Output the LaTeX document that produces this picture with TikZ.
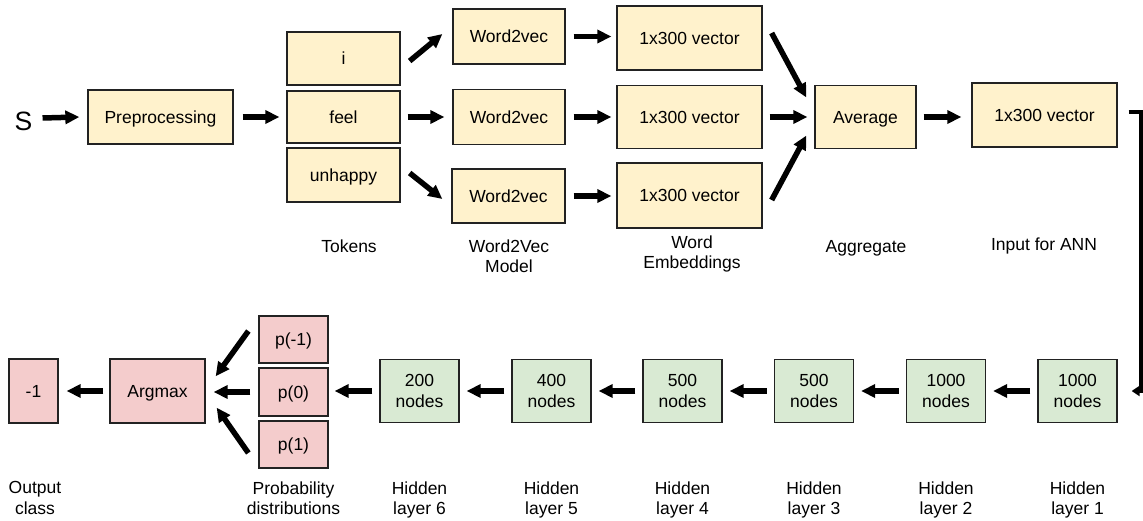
\documentclass[tikz,border=0pt]{standalone}
\usepackage{fontspec}
\setmainfont{Liberation Sans}
\usetikzlibrary{arrows.meta,calc}
\definecolor{boxyellow}{HTML}{FFF2CC}
\definecolor{boxpink}{HTML}{F4CCCC}
\definecolor{boxgreen}{HTML}{D9EAD3}
\definecolor{boxline}{HTML}{222222}
\begin{document}
\begin{tikzpicture}[x=1pt,y=-1pt,
  font=\fontsize{17.5}{20.5}\selectfont,
  box/.style={draw=boxline,line width=1.3pt,inner sep=0pt,align=center,text depth=0pt},
  ybox/.style={box,fill=boxyellow},
  pbox/.style={box,fill=boxpink},
  gbox/.style={box,fill=boxgreen,minimum width=79pt,minimum height=63pt},
  lbl/.style={align=center,inner sep=0pt},
  arr/.style={line width=5.5pt,-{Triangle[length=14pt,width=13pt]}},
  bendarr/.style={line width=4pt,line join=miter,-{Triangle[length=8pt,width=10pt]}}]
\useasboundingbox (0,0) rectangle (1143,521);
% ---- top row ----
\node[inner sep=0pt,font=\fontsize{26.5}{30}\selectfont] (s) at (23.5,121) {S};
\node[ybox,minimum width=145pt,minimum height=54pt] (pre) at (160.5,117) {Preprocessing};
\node[ybox,minimum width=113pt,minimum height=53pt] (ti) at (343.5,58.5) {i};
\node[ybox,minimum width=113pt,minimum height=52pt] (tfeel) at (343.5,117) {feel};
\node[ybox,minimum width=113pt,minimum height=54pt] (tun) at (343.5,175) {unhappy};
\node[ybox,minimum width=112pt,minimum height=55pt] (wa) at (509,36.5) {Word2vec};
\node[ybox,minimum width=112pt,minimum height=55pt] (wb) at (509,117) {Word2vec};
\node[ybox,minimum width=113pt,minimum height=54pt] (wc) at (508.5,196) {Word2vec};
\node[ybox,minimum width=145pt,minimum height=64pt] (va) at (689.5,38) {1x300 vector};
\node[ybox,minimum width=145pt,minimum height=63pt] (vb) at (689.5,117) {1x300 vector};
\node[ybox,minimum width=145pt,minimum height=65pt] (vc) at (689.5,195.5) {1x300 vector};
\node[ybox,minimum width=101pt,minimum height=63pt] (avg) at (865.5,117) {Average};
\node[ybox,minimum width=145pt,minimum height=64pt] (inp) at (1044.5,115) {1x300 vector};
% top labels
\node[lbl] (ltok) at (349,246) {Tokens};
\node[lbl] (lw2v) at (509,256) {Word2Vec\\Model};
\node[lbl] (lemb) at (692,254) {Word\\Embeddings};
\node[lbl] (lagg) at (866,248) {Aggregate};
\node[lbl] (linp) at (1044,246) {Input for ANN};
% ---- bottom row ----
\node[pbox,minimum width=49pt,minimum height=64pt] (out) at (33.5,391) {-1};
\node[pbox,minimum width=95pt,minimum height=64pt] (argm) at (157.5,391) {Argmax};
\node[pbox,minimum width=69pt,minimum height=47pt] (pm) at (293.5,339.5) {p(-1)};
\node[pbox,minimum width=69pt,minimum height=48pt] (pz) at (293.5,392) {p(0)};
\node[pbox,minimum width=69pt,minimum height=47pt] (pp) at (293.5,444.5) {p(1)};
\node[gbox] (h6) at (419.5,391) {200\\nodes};
\node[gbox] (h5) at (551.5,391) {400\\nodes};
\node[gbox] (h4) at (682.5,391) {500\\nodes};
\node[gbox] (h3) at (814,391) {500\\nodes};
\node[gbox] (h2) at (946,391) {1000\\nodes};
\node[gbox] (h1) at (1077.5,391) {1000\\nodes};
% bottom labels
\node[lbl] (lout) at (35,498) {Output\\class};
\node[lbl] (lprob) at (293.5,498) {Probability\\distributions};
\node[lbl] (l6) at (419.5,500) {Hidden\\layer 6};
\node[lbl] (l5) at (551.5,500) {Hidden\\layer 5};
\node[lbl] (l4) at (682.5,500) {Hidden\\layer 4};
\node[lbl] (l3) at (814,500) {Hidden\\layer 3};
\node[lbl] (l2) at (946,500) {Hidden\\layer 2};
\node[lbl] (l1) at (1077.5,500) {Hidden\\layer 1};
% ---- top arrows ----
\draw[arr] ($(s.east)+(10,-3)$) -- ($(pre.west)+(-8,0)$);
\draw[arr] ($(pre.east)+(9,0)$) -- ($(tfeel.west)+(-7,0)$);
\draw[arr] ($(ti.east)+(9,2.5)$) -- ($(wa.west)+(-10,-2.5)$);
\draw[arr] ($(tfeel.east)+(7,0)$) -- ($(wb.west)+(-8,0)$);
\draw[arr] ($(tun.east)+(9,-2)$) -- ($(wc.west)+(-9,3)$);
\draw[arr] ($(wa.east)+(8,0)$) -- ($(va.west |- wa.east)+(-5,0)$);
\draw[arr] ($(wb.east)+(8,0)$) -- ($(vb.west)+(-5,0)$);
\draw[arr] ($(wc.east)+(8,0)$) -- ($(vc.west |- wc.east)+(-5,0)$);
\draw[arr] ($(va.east)+(9,-5)$) -- ($(avg.west)+(-8,-19.5)$);
\draw[arr] ($(vb.east)+(7,0)$) -- ($(avg.west)+(-7,0)$);
\draw[arr] ($(vc.east)+(9,4.5)$) -- ($(avg.west)+(-8,18.5)$);
\draw[arr] ($(avg.east)+(7,0)$) -- ($(inp.west |- avg.east)+(-10,0)$);
\coordinate (bendtop) at ($(inp.east)+(23.5,-2.5)$);
\draw[bendarr] ($(inp.east)+(11,-2.5)$) -- (bendtop) -- (bendtop |- h1.east) -- ($(h1.east)+(14,0)$);
% ---- bottom arrows ----
\draw[arr] ($(h1.west)+(-7,0)$) -- ($(h2.east)+(7,0)$);
\draw[arr] ($(h2.west)+(-7,0)$) -- ($(h3.east)+(7,0)$);
\draw[arr] ($(h3.west)+(-7,0)$) -- ($(h4.east)+(7,0)$);
\draw[arr] ($(h4.west)+(-7,0)$) -- ($(h5.east)+(7,0)$);
\draw[arr] ($(h5.west)+(-7,0)$) -- ($(h6.east)+(7,0)$);
\draw[arr] ($(h6.west)+(-7,0)$) -- ($(pz.east |- h6.west)+(6,0)$);
\draw[arr] ($(pz.west)+(-8,0)$) -- ($(argm.east |- pz.west)+(8,0)$);
\draw[arr] ($(pm.west)+(-10,-8.5)$) -- ($(argm.north east)+(10,18)$);
\draw[arr] ($(pp.west)+(-10,8.5)$) -- ($(argm.south east)+(11,-16)$);
\draw[arr] ($(argm.west)+(-6,0)$) -- ($(out.east)+(8,0)$);
\end{tikzpicture}
\end{document}
